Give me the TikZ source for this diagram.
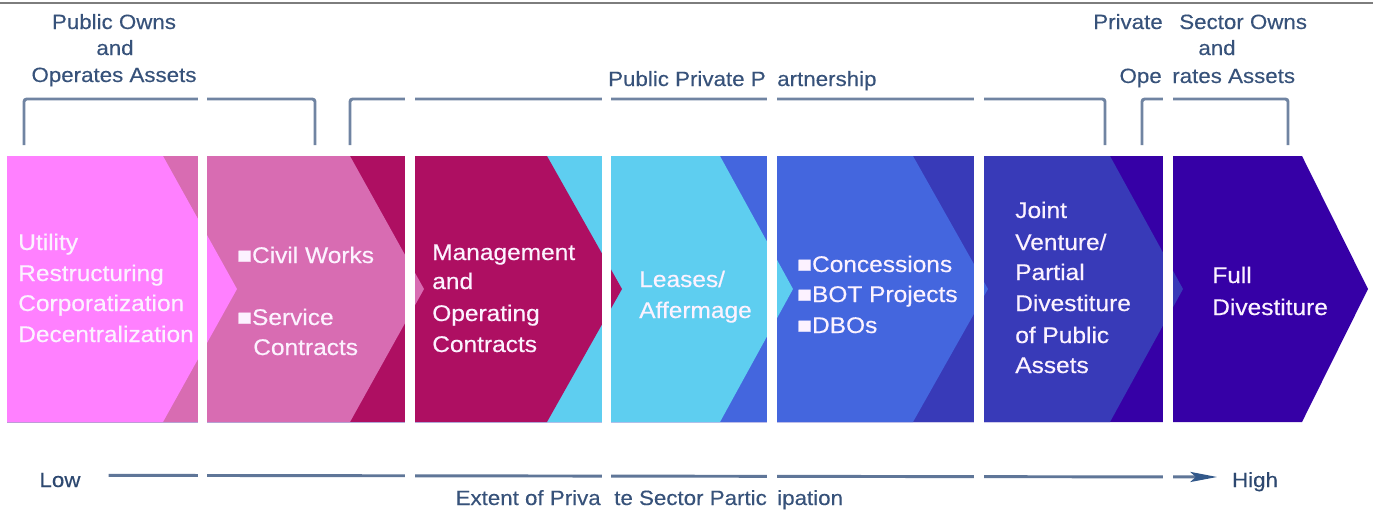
\documentclass[tikz,border=0pt]{standalone}
\usepackage{fontspec}
\setmainfont{Liberation Sans}[FakeStretch=1.08]
\newfontfamily\pfont{Liberation Sans}[FakeStretch=1.08,FakeBold=0.45]
\newfontfamily\hfont{Liberation Sans}[FakeStretch=1.08,FakeBold=0.3]
\usetikzlibrary{arrows.meta}
\definecolor{cA}{RGB}{255,128,255}
\definecolor{cB}{RGB}{216,108,178}
\definecolor{cC}{RGB}{174,15,98}
\definecolor{cD}{RGB}{94,206,240}
\definecolor{cE}{RGB}{68,102,222}
\definecolor{cF}{RGB}{56,58,184}
\definecolor{cG}{RGB}{54,0,166}
\definecolor{hdr}{RGB}{55,82,122}
\definecolor{lowhigh}{RGB}{45,72,112}
\definecolor{brk}{RGB}{112,132,162}
\definecolor{axl}{RGB}{95,118,152}
\definecolor{axh}{RGB}{50,88,138}
\definecolor{ptx}{RGB}{252,242,255}
\definecolor{topline}{RGB}{125,125,125}
\begin{document}
\begin{tikzpicture}[x=0.75pt,y=-0.75pt,
  ptxt/.style={anchor=base west, inner sep=0pt, text=ptx, font=\pfont\fontsize{17}{20}\selectfont},
  htxt/.style={anchor=base, inner sep=0pt, text=hdr, font=\hfont\fontsize{15.5}{18}\selectfont},
  brkline/.style={draw=brk, line width=2.2pt, rounded corners=2pt},
  axisline/.style={draw=axl, line width=2.2pt, -{Stealth[length=20pt,width=7.5pt,inset=4pt,color=axh]}},
  gapstrip/.style={fill=white, draw=none}
]
\useasboundingbox (0,0) rectangle (1373,515);
\fill[white] (0,0) rectangle (1373,515);

% chevrons (drawn from right to left so each notch is formed)
\fill[cG] (7,156) -- (1302,156) -- (1368,289) -- (1302,422) -- (7,422) -- cycle;
\fill[cF] (7,156) -- (1110,156) -- (1183,289) -- (1110,422) -- (7,422) -- cycle;
\fill[cE] (7,156) -- (913,156) -- (988,289) -- (913,422) -- (7,422) -- cycle;
\fill[cD] (7,156) -- (720,156) -- (793,289) -- (720,422) -- (7,422) -- cycle;
\fill[cC] (7,156) -- (547,156) -- (622,289) -- (547,422) -- (7,422) -- cycle;
\fill[cB] (7,156) -- (350,156) -- (424,289) -- (350,422) -- (7,422) -- cycle;
\fill[cA] (7,156) -- (163,156) -- (237,289) -- (163,422) -- (7,422) -- cycle;

% brackets
\draw[brkline] (24,145) -- (24,99) -- (315,99) -- (315,145);
\draw[brkline] (350,145) -- (350,99) -- (1105,99) -- (1105,145);
\draw[brkline] (1142,145) -- (1142,99) -- (1288,99) -- (1288,145);

% axis
\node[htxt, text=lowhigh] (low) at (60,487) {Low};
\node[htxt, text=lowhigh] (high) at (1255,487) {High};
\draw[axisline] ([xshift=21pt,yshift=3.5pt]low.east) -- ([xshift=-11pt,yshift=3.5pt]high.west);

% white gaps of the sliced picture
\fill[gapstrip] (198,6) rectangle (207,515);
\fill[gapstrip] (405,6) rectangle (415,515);
\fill[gapstrip] (602,6) rectangle (611,515);
\fill[gapstrip] (767,6) rectangle (777,515);
\fill[gapstrip] (974,6) rectangle (984,515);
\fill[gapstrip] (1163,6) rectangle (1173,515);

% top rule
\draw[draw=topline, line width=1.5pt] (0,3) -- (1373,3);

% header texts
\node[htxt] (h1a) at (114,29) {Public Owns};
\node[htxt] (h1b) at (115,55) {and};
\node[htxt] (h1c) at (114,82) {Operates Assets};
\node[htxt, anchor=base east] (h2a) at (766,86) {Public Private P};
\node[htxt, anchor=base west] (h2b) at (777,86) {artnership};
\node[htxt, anchor=base east] (h3a) at (1163,29) {Private};
\node[htxt, anchor=base west] (h3b) at (1179,29) {Sector Owns};
\node[htxt] (h3c) at (1217,55) {and};
\node[htxt, anchor=base east] (h3d) at (1162,83) {Ope};
\node[htxt, anchor=base west] (h3e) at (1172,83) {rates Assets};

% bottom caption
\node[htxt, anchor=base east] (ba) at (601,505) {Extent of Priva};
\node[htxt, anchor=base west] (bb) at (614,505) {te Sector Partic};
\node[htxt, anchor=base west] (bc) at (777,505) {ipation};

% panel texts
\node[ptxt] (p1a) at (18,250) {Utility};
\node[ptxt] (p1b) at (18,281) {Restructuring};
\node[ptxt] (p1c) at (18,311) {Corporatization};
\node[ptxt] (p1d) at (18,342) {Decentralization};

\node[ptxt] (p2a) at (237,263) {■Civil Works};
\node[ptxt] (p2b) at (237,325) {■Service};
\node[ptxt] (p2c) at (253,355) {Contracts};

\node[ptxt] (p3a) at (432,260) {Management};
\node[ptxt] (p3b) at (432,289) {and};
\node[ptxt] (p3c) at (432,321) {Operating};
\node[ptxt] (p3d) at (432,352) {Contracts};

\node[ptxt] (p4a) at (639,287) {Leases/};
\node[ptxt] (p4b) at (639,318) {Affermage};

\node[ptxt] (p5a) at (797,272) {■Concessions};
\node[ptxt] (p5b) at (797,302) {■BOT Projects};
\node[ptxt] (p5c) at (797,333) {■DBOs};

\node[ptxt] (p6a) at (1015,218) {Joint};
\node[ptxt] (p6b) at (1015,250) {Venture/};
\node[ptxt] (p6c) at (1015,280) {Partial};
\node[ptxt] (p6d) at (1015,311) {Divestiture};
\node[ptxt] (p6e) at (1015,343) {of Public};
\node[ptxt] (p6f) at (1015,373) {Assets};

\node[ptxt] (p7a) at (1212,283) {Full};
\node[ptxt] (p7b) at (1212,315) {Divestiture};
\end{tikzpicture}
\end{document}
